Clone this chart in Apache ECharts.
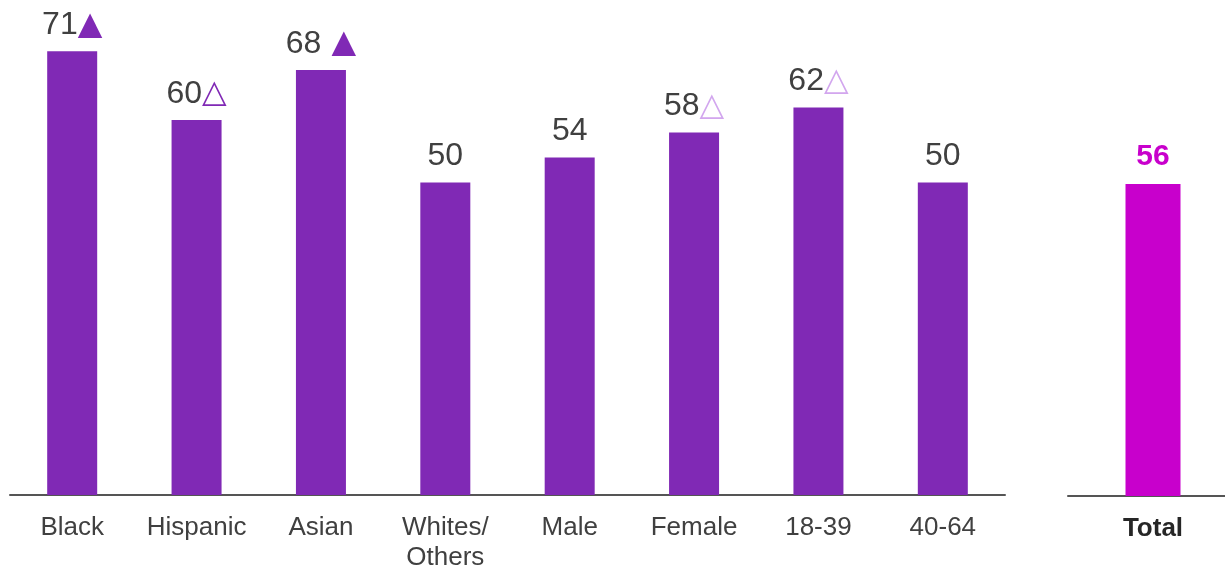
<!DOCTYPE html>
<html>
<head>
<meta charset="utf-8">
<script src="https://cdn.jsdelivr.net/npm/echarts@6/dist/echarts.min.js"></script>
<style>html,body{margin:0;padding:0;background:#fff;}#c{width:1225px;height:570px;}</style>
</head>
<body>
<div id="c"></div>
<script>
var categories = ['Black', 'Hispanic', 'Asian', 'Whites/\nOthers', 'Male', 'Female', '18-39', '40-64'];
var values = [71, 60, 68, 50, 54, 58, 62, 50];
var markers = ['▲', '△', ' ▲', '', '', '△', '△', ''];
var markerTone = ['dark', 'dark', 'dark', '', '', 'light', 'light', ''];
var totalCategory = ['Total'];
var totalValue = [56];

var FONT = "'Liberation Sans', Arial, sans-serif";
var PURPLE = '#8029B5';
var MAGENTA = '#C800CC';
var TEXT = '#404040';

var chart = echarts.init(document.getElementById('c'));
chart.setOption({
  animation: false,
  grid: [
    {left: 10, top: 0, right: 220, bottom: 75, outerBoundsMode: 'none', containLabel: false},
    {left: 1068, top: 0, right: 0, bottom: 74, outerBoundsMode: 'none', containLabel: false},
    {left: 1081, top: 0, right: 0, bottom: 74, outerBoundsMode: 'none', containLabel: false}
  ],
  xAxis: [
    {type: 'category', gridIndex: 0, data: categories,
     axisLine: {lineStyle: {color: '#555', width: 2}},
     axisTick: {show: false},
     axisLabel: {color: TEXT, fontSize: 26, fontFamily: FONT, margin: 18, lineHeight: 30, interval: 0}},
    {type: 'category', gridIndex: 1, data: [''],
     axisLine: {lineStyle: {color: '#555', width: 2}},
     axisTick: {show: false}, axisLabel: {show: false}},
    {type: 'category', gridIndex: 2, data: totalCategory,
     axisLine: {show: false},
     axisTick: {show: false},
     axisLabel: {color: '#262626', fontSize: 26, fontWeight: 'bold', fontFamily: FONT, margin: 18, lineHeight: 30}}
  ],
  yAxis: [
    {type: 'value', gridIndex: 0, min: 0, max: 79.2, show: false},
    {type: 'value', gridIndex: 1, min: 0, max: 89, show: false},
    {type: 'value', gridIndex: 2, min: 0, max: 89, show: false}
  ],
  series: [
    {type: 'bar', xAxisIndex: 0, yAxisIndex: 0, barWidth: 50,
     itemStyle: {color: PURPLE},
     data: values,
     label: {show: true, position: 'top', distance: 10,
       formatter: function (p) {
         var i = p.dataIndex;
         var s = '{v|' + values[i] + '}';
         if (markers[i]) s += '{' + markerTone[i] + '|' + markers[i] + '}';
         return s;
       },
       rich: {
         v: {fontSize: 32, color: TEXT, fontFamily: FONT},
         dark: {fontSize: 32, color: PURPLE, fontFamily: 'DejaVu Sans'},
         light: {fontSize: 32, color: '#D2A6EE', fontFamily: 'DejaVu Sans'}
       }}
    },
    {type: 'bar', xAxisIndex: 2, yAxisIndex: 2, barWidth: 55,
     itemStyle: {color: MAGENTA},
     data: totalValue,
     label: {show: true, position: 'top', distance: 12, color: MAGENTA,
       fontSize: 30, fontWeight: 'bold', fontFamily: FONT}
    }
  ]
});
</script>
</body>
</html>
